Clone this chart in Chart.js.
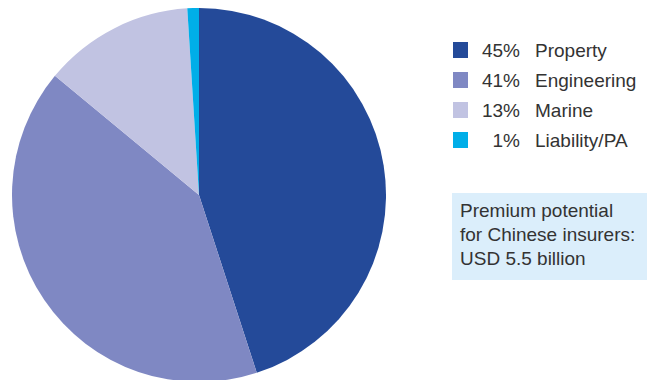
<!DOCTYPE html>
<html>
<head>
<meta charset="utf-8">
<script src="https://cdn.jsdelivr.net/npm/chart.js@4"></script>
<style>
  html, body { margin: 0; padding: 0; background: #fff; overflow: hidden; }
  body { width: 647px; height: 380px; position: relative; font-family: "Liberation Sans", Arial, sans-serif; color: #333; }
  #pieBox { position: absolute; left: 12px; top: 8px; width: 374px; height: 374px; }
  #legend { position: absolute; left: 453px; top: 36px; }
  .row { position: relative; height: 30px; line-height: 30px; font-size: 19px; white-space: nowrap; }
  .swatch { position: absolute; left: 0; top: 6px; width: 15px; height: 16px; }
  .pct { position: absolute; left: 20px; width: 47px; text-align: right; }
  .lbl { position: absolute; left: 82px; }
  #note { position: absolute; left: 452px; top: 193px; width: 195px; height: 87px; background: #dbeefb;
          font-size: 19px; line-height: 24px; box-sizing: border-box; padding: 6px 0 0 8px; color: #333; }
</style>
</head>
<body>
<div id="pieBox"><canvas id="pie"></canvas></div>
<div id="legend"></div>
<div id="note">Premium potential<br>for Chinese insurers:<br>USD 5.5 billion</div>
<script>
// premium potential split by line of business
const categories = ['Property', 'Engineering', 'Marine', 'Liability/PA'];
const shares = [45, 41, 13, 1];
const colors = ['#244a99', '#7f88c3', '#c1c3e2', '#00aee8'];

// legend on the right, built from the same arrays
const legend = document.getElementById('legend');
categories.forEach((name, i) => {
  const row = document.createElement('div');
  row.className = 'row';
  row.innerHTML = '<span class="swatch" style="background:' + colors[i] + '"></span>' +
    '<span class="pct">' + shares[i] + '%</span>' +
    '<span class="lbl">' + name + '</span>';
  legend.appendChild(row);
});

new Chart(document.getElementById('pie'), {
  type: 'pie',
  data: {
    labels: categories,
    datasets: [{
      data: shares,
      backgroundColor: colors,
      borderWidth: 0
    }]
  },
  options: {
    responsive: true,
    maintainAspectRatio: false,
    animation: false,
    layout: { padding: 0 },
    plugins: {
      legend: { display: false },
      tooltip: { enabled: false }
    }
  }
});
</script>
</body>
</html>
